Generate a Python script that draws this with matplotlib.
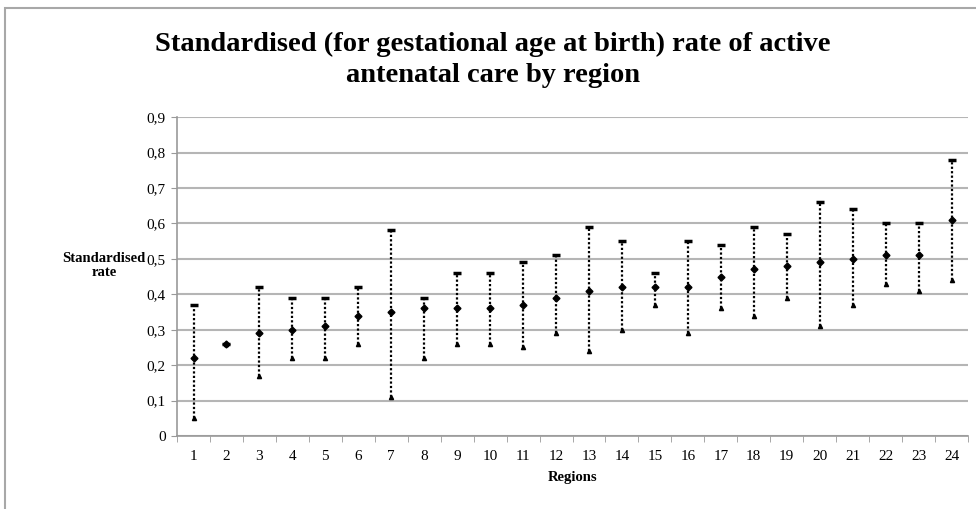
import matplotlib.pyplot as plt
from matplotlib.patches import Rectangle
import numpy as np

# Standardised rate per region: point estimate, upper and lower bound
regions = np.arange(1, 25)
rate = [0.22, 0.26, 0.29, 0.30, 0.31, 0.34, 0.35, 0.36, 0.36, 0.36, 0.37, 0.39,
        0.41, 0.42, 0.42, 0.42, 0.45, 0.47, 0.48, 0.49, 0.50, 0.51, 0.51, 0.61]
upper = [0.37, 0.26, 0.42, 0.39, 0.39, 0.42, 0.58, 0.39, 0.46, 0.46, 0.49, 0.51,
         0.59, 0.55, 0.46, 0.55, 0.54, 0.59, 0.57, 0.66, 0.64, 0.60, 0.60, 0.78]
lower = [0.05, 0.26, 0.17, 0.22, 0.22, 0.26, 0.11, 0.22, 0.26, 0.26, 0.25, 0.29,
         0.24, 0.30, 0.37, 0.29, 0.36, 0.34, 0.39, 0.31, 0.37, 0.43, 0.41, 0.44]
yticks = np.arange(0, 0.91, 0.1)
ytick_labels = ['0', '0,1', '0,2', '0,3', '0,4', '0,5', '0,6', '0,7', '0,8', '0,9']

plt.rcParams['font.family'] = ['Liberation Serif', 'DejaVu Serif']

fig = plt.figure(figsize=(9.76, 5.09), dpi=100)
ax = fig.add_axes([0.1814, 0.1434, 0.8104, 0.6266])

# outer chart frame
fig.patches.append(Rectangle((5 / 976, -0.1), 1.2, 1 - 8 / 509 + 0.1,
                             transform=fig.transFigure, fill=False,
                             edgecolor='#a8a8a8', linewidth=1.5))

ax.vlines(regions, lower, upper, colors='black', linestyles=(0, (1, 1)),
          linewidth=1.6, zorder=3)
ax.plot(regions, upper, linestyle='none', marker='_', color='black',
        markersize=6, markeredgewidth=2.5, zorder=4)
ax.plot(regions, lower, linestyle='none', marker='^', color='black',
        markersize=3, zorder=4)
ax.plot(regions, rate, linestyle='none', marker='D', color='black',
        markersize=3.5, zorder=5)

ax.set_xlim(0.5, 24.5)
ax.set_ylim(0, 0.9)
ax.set_yticks(yticks)
ax.set_yticklabels(ytick_labels)
ax.set_xticks(regions)
ax.set_xticks(np.arange(0.5, 25, 1), minor=True)
ax.tick_params(axis='x', which='major', length=0, pad=10, labelsize=11)
ax.tick_params(axis='x', which='minor', length=4, color='#999999', direction='out')
ax.tick_params(axis='y', length=4, color='#999999', labelsize=11, pad=4)

ax.grid(axis='y', color='#b5b5b5', linewidth=1.5)
ax.set_axisbelow(True)
for side in ['top', 'right']:
    ax.spines[side].set_visible(False)
for side in ['left', 'bottom']:
    ax.spines[side].set_color('#999999')
    ax.spines[side].set_linewidth(1.2)

ax.set_xlabel('Regions', fontweight='bold', fontsize=10.5, labelpad=6)
fig.text(104 / 976, 1 - 266 / 509, 'Standardised\nrate', ha='center', va='center',
         fontweight='bold', fontsize=10.5, linespacing=1.1)

fig.text(493 / 976, 1 - 60 / 509,
         'Standardised (for gestational age at birth) rate of active\nantenatal care by region',
         ha='center', va='center', fontweight='bold', fontsize=20.5, linespacing=1.32)

fig.savefig('out.png', dpi=100)
